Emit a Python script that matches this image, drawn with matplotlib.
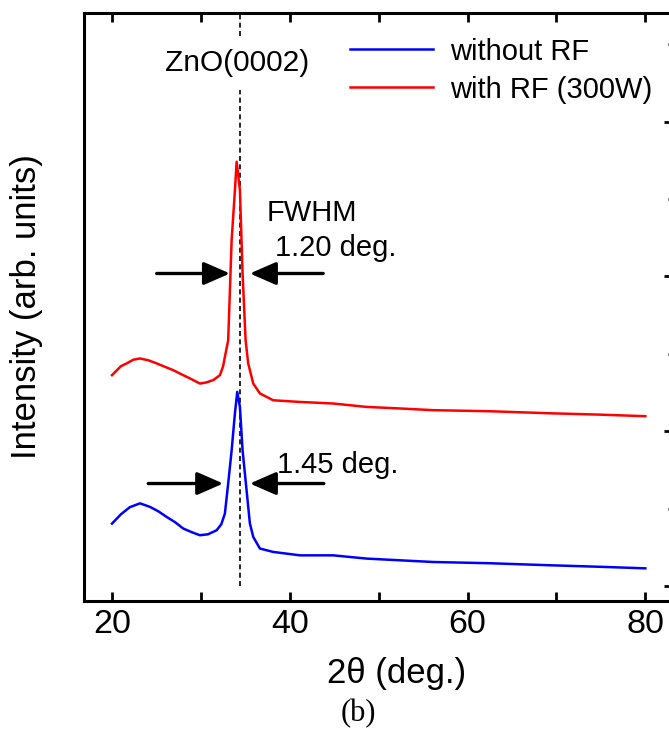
import matplotlib.pyplot as plt
from matplotlib.ticker import MultipleLocator

plt.rcParams['font.family'] = ['Liberation Sans', 'DejaVu Sans']

# XRD scans: 2theta (deg.) / intensity (arb. units)
theta_plain = [20.0, 21.0, 22.0, 23.15, 24.27, 25.2, 26.15, 27.1, 28.02, 29.0,
               29.89, 30.8, 31.77, 32.3, 32.70, 33.07, 33.46, 33.83, 34.09,
               34.39, 34.69, 35.06, 35.51, 35.89, 36.64, 38.13, 41.16, 44.88,
               48.63, 52.38, 56.12, 62.5, 69.2, 74.9, 80.0]
counts_plain = [0.403, 0.463, 0.509, 0.534, 0.511, 0.483, 0.446, 0.412, 0.371,
                0.347, 0.328, 0.334, 0.360, 0.399, 0.468, 0.662, 0.877, 1.116,
                1.254, 1.157, 0.877, 0.664, 0.405, 0.317, 0.242, 0.220, 0.198,
                0.198, 0.177, 0.166, 0.155, 0.147, 0.134, 0.124, 0.114]

theta_rf = [20.0, 21.0, 21.65, 22.4, 23.15, 24.1, 25.03, 26.0, 26.9, 27.8,
            28.77, 29.89, 30.6, 31.39, 32.14, 32.5, 32.70, 33.07, 33.46, 33.83,
            34.02, 34.39, 34.69, 35.03, 35.32, 35.89, 36.64, 38.13, 41.16,
            44.88, 48.63, 52.38, 56.12, 62.5, 69.2, 74.9, 80.0]
counts_rf = [1.362, 1.420, 1.438, 1.462, 1.470, 1.458, 1.438, 1.415, 1.394,
             1.368, 1.341, 1.308, 1.315, 1.330, 1.362, 1.420, 1.480, 1.588,
             2.235, 2.558, 2.741, 2.558, 2.019, 1.588, 1.438, 1.308, 1.244,
             1.200, 1.189, 1.179, 1.157, 1.147, 1.136, 1.129, 1.116, 1.107,
             1.097]

labels = ['without RF', 'with RF (300W)']
colors = ['#0000ff', '#ff0000']

peak_pos = 34.39  # ZnO(0002)
fwhm_text = ['1.20 deg.', '1.45 deg.']

fig = plt.figure(figsize=(6.69, 7.29), dpi=100)
ax = fig.add_axes([84 / 669, 128 / 729, 588 / 669, 588 / 729])

ax.plot(theta_plain, counts_plain, color=colors[0], lw=1.8, label=labels[0])
ax.plot(theta_rf, counts_rf, color=colors[1], lw=1.8, label=labels[1])

ax.plot([peak_pos, peak_pos], [0.0, 3.75], color='k', lw=1.2,
        dashes=(3, 2), zorder=1)
ax.text(34.07, 3.379, 'ZnO(0002)', fontsize=21.5, ha='center', va='center',
        bbox=dict(boxstyle='square,pad=0.45', fc='white', ec='none'))

# FWHM arrows (red pair, then blue pair)
arr = dict(arrowstyle='-|>,head_length=1.6,head_width=0.7', lw=2.4,
           color='k', shrinkA=0, shrinkB=0, mutation_scale=10)
for y, xl, xr in [(2.019, (25.03, 33.27), (43.76, 35.51)),
                  (0.662, (24.08, 32.51), (43.83, 35.51))]:
    ax.annotate('', xy=(xl[1], y), xytext=(xl[0], y), arrowprops=arr)
    ax.annotate('', xy=(xr[1], y), xytext=(xr[0], y), arrowprops=arr)

ax.text(37.39, 2.407, 'FWHM', fontsize=21, va='center')
ax.text(38.33, 2.181, fwhm_text[0], fontsize=21, va='center')
ax.text(38.52, 0.780, fwhm_text[1], fontsize=21, va='center')

ax.set_xlim(16.85, 83.0)
ax.set_ylim(-0.097, 3.702)
ax.xaxis.set_major_locator(MultipleLocator(20))
ax.xaxis.set_minor_locator(MultipleLocator(10))
ax.yaxis.set_major_locator(MultipleLocator(1))
ax.yaxis.set_minor_locator(MultipleLocator(0.5))
ax.yaxis.tick_right()

ax.tick_params(axis='x', which='both', direction='in', top=True, length=6.5,
               width=2, labelsize=24.5, pad=6)
ax.tick_params(axis='y', which='both', direction='in', labelright=False,
               left=False, width=2)
ax.tick_params(axis='y', which='major', length=6)
ax.tick_params(axis='y', which='minor', length=3)
for s in ax.spines.values():
    s.set_linewidth(2.2)

ax.set_xlabel('2θ (deg.)', fontsize=25)
ax.xaxis.set_label_coords(0.531, -0.095)
ax.set_ylabel('Intensity (arb. units)', fontsize=25)
ax.yaxis.set_label_position('left')
ax.yaxis.set_label_coords(-0.07, 0.5)

leg = ax.legend(loc='upper left', bbox_to_anchor=(0.452, 0.958), frameon=False,
                fontsize=21, handlelength=2.86, handletextpad=0.59,
                labelspacing=0.34, borderpad=0, borderaxespad=0)

fig.text(358 / 669, 1 - 714 / 729, '(b)', fontsize=22, family='Liberation Serif',
         ha='center', va='center')

fig.savefig('out.png', dpi=100)
